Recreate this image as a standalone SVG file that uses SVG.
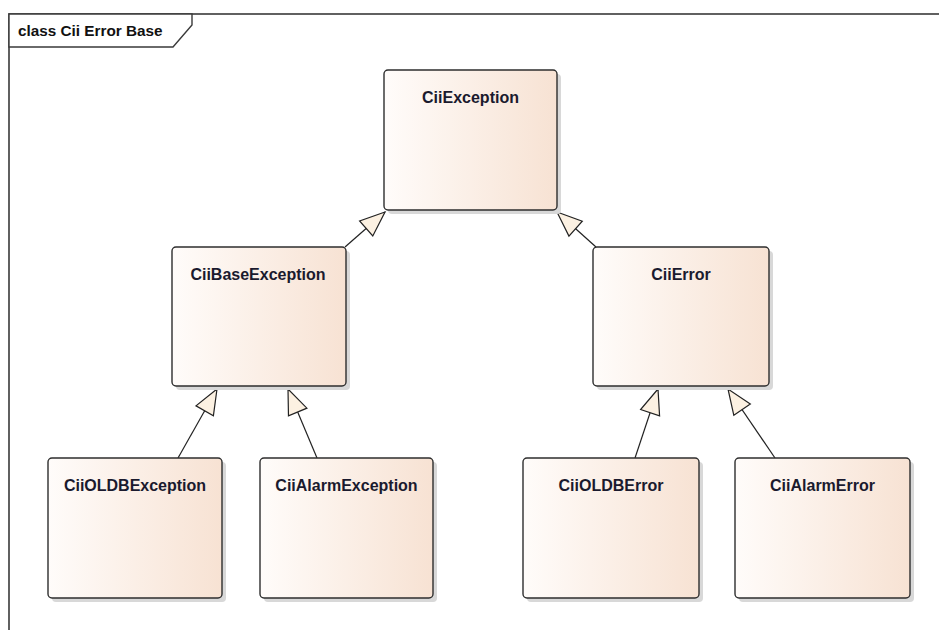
<svg xmlns="http://www.w3.org/2000/svg" width="939" height="630" viewBox="0 0 939 630">
<defs>
<linearGradient id="fill" x1="0" y1="0" x2="1" y2="0">
<stop offset="0" stop-color="#FFFCFA"/>
<stop offset="1" stop-color="#F7E2D3"/>
</linearGradient>
<marker id="gen" markerUnits="userSpaceOnUse" markerWidth="30" markerHeight="26" viewBox="-26 -13 28 26" refX="0" refY="0" orient="auto">
<path d="M0,0 L-25,-10 L-25,10 Z" fill="#FCF1E2" stroke="#222" stroke-width="1.2" stroke-linejoin="miter"/>
</marker>
</defs>
<style>
.frame{fill:none;stroke:#3a3a3a;stroke-width:1.6}
.tab{fill:#fff;stroke:#3a3a3a;stroke-width:1.4}
.title{font-family:"Liberation Sans",Arial,sans-serif;font-weight:bold;font-size:15.3px;fill:#111}
.shadow{fill:#d8d8d8}
.box{fill:url(#fill);stroke:#2e2e2e;stroke-width:1.4}
.label{font-family:"Liberation Sans",Arial,sans-serif;font-weight:bold;font-size:16px;fill:#1a1a2e;text-anchor:middle}
.edge{fill:none;stroke:#222;stroke-width:1.2;marker-end:url(#gen)}
</style>
<rect width="939" height="630" fill="#fff"/>
<rect class="frame" x="9" y="14" width="950" height="640"/>
<path class="tab" d="M9,14 H192 V25 L173,47 H9 Z"/>
<text class="title" x="18" y="36">class Cii Error Base</text>

<g id="connectors">
<line class="edge" x1="345" y1="247" x2="385" y2="212"/>
<line class="edge" x1="596" y1="247" x2="557" y2="212"/>
<line class="edge" x1="178" y1="458" x2="217" y2="389"/>
<line class="edge" x1="317" y1="458" x2="288" y2="389"/>
<line class="edge" x1="635" y1="458" x2="658" y2="389"/>
<line class="edge" x1="775" y1="458" x2="728" y2="389"/>
</g>

<g id="CiiException">
<rect class="shadow" x="388" y="74" width="173" height="140" rx="4"/>
<rect class="box" x="384" y="70" width="173" height="140" rx="4"/>
<text class="label" x="470.5" y="103">CiiException</text>
</g>
<g id="CiiBaseException">
<rect class="shadow" x="176" y="251" width="174" height="139" rx="4"/>
<rect class="box" x="172" y="247" width="174" height="139" rx="4"/>
<text class="label" x="258" y="280">CiiBaseException</text>
</g>
<g id="CiiError">
<rect class="shadow" x="597" y="251" width="176" height="139" rx="4"/>
<rect class="box" x="593" y="247" width="176" height="139" rx="4"/>
<text class="label" x="681" y="280">CiiError</text>
</g>
<g id="CiiOLDBException">
<rect class="shadow" x="52" y="462" width="174" height="140" rx="4"/>
<rect class="box" x="48" y="458" width="174" height="140" rx="4"/>
<text class="label" x="135" y="491">CiiOLDBException</text>
</g>
<g id="CiiAlarmException">
<rect class="shadow" x="264" y="462" width="173" height="140" rx="4"/>
<rect class="box" x="260" y="458" width="173" height="140" rx="4"/>
<text class="label" x="346.5" y="491">CiiAlarmException</text>
</g>
<g id="CiiOLDBError">
<rect class="shadow" x="527" y="462" width="176" height="140" rx="4"/>
<rect class="box" x="523" y="458" width="176" height="140" rx="4"/>
<text class="label" x="611" y="491">CiiOLDBError</text>
</g>
<g id="CiiAlarmError">
<rect class="shadow" x="739" y="462" width="175" height="140" rx="4"/>
<rect class="box" x="735" y="458" width="175" height="140" rx="4"/>
<text class="label" x="822.5" y="491">CiiAlarmError</text>
</g>
</svg>
